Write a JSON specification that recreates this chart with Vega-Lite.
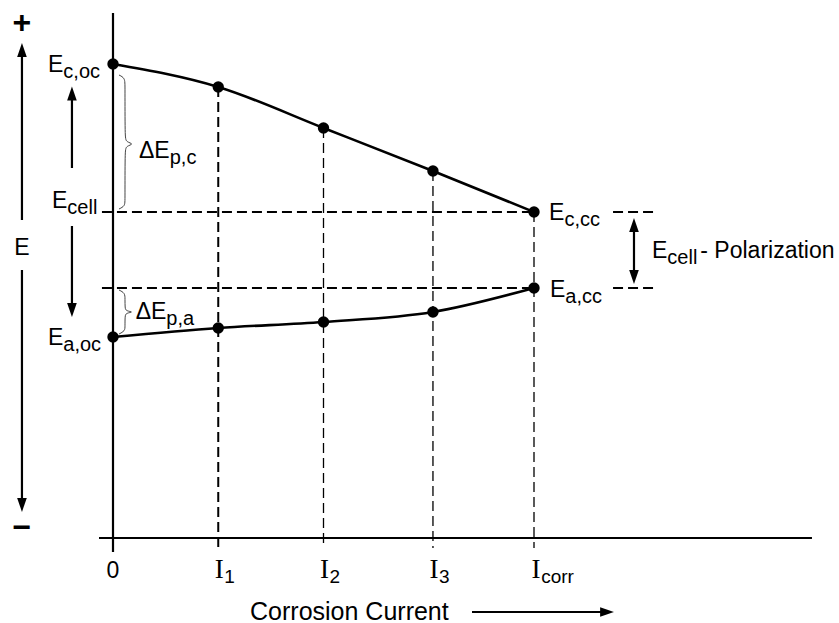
{
  "$schema": "https://vega.github.io/schema/vega-lite/v6.json",
  "width": 839,
  "height": 623,
  "autosize": {"type": "none"},
  "padding": 0,
  "background": "white",
  "config": {"view": {"stroke": null}},
  "datasets": {
    "curves": [
      {"series": "cathodic", "x": 0, "y": 4.74},
      {"series": "cathodic", "x": 1.0, "y": 4.51},
      {"series": "cathodic", "x": 2.0, "y": 4.10},
      {"series": "cathodic", "x": 3.04, "y": 3.67},
      {"series": "cathodic", "x": 4.0, "y": 3.26},
      {"series": "anodic", "x": 0, "y": 2.01},
      {"series": "anodic", "x": 1.0, "y": 2.10},
      {"series": "anodic", "x": 2.0, "y": 2.16},
      {"series": "anodic", "x": 3.04, "y": 2.26},
      {"series": "anodic", "x": 4.0, "y": 2.50}
    ],
    "solid": [
      {"name": "x-axis", "x": -0.133, "x2": 6.641, "y": 0, "y2": 0},
      {"name": "y-axis", "x": 0, "x2": 0, "y": -0.14, "y2": 5.25},
      {"name": "E up", "x": -0.865, "x2": -0.865, "y": 3.18, "y2": 4.84},
      {"name": "E down", "x": -0.865, "x2": -0.865, "y": 2.68, "y2": 0.37},
      {"name": "Ecell up", "x": -0.39, "x2": -0.39, "y": 3.70, "y2": 4.40},
      {"name": "Ecell down", "x": -0.39, "x2": -0.39, "y": 3.12, "y2": 2.33},
      {"name": "polarization", "x": 4.95, "x2": 4.95, "y": 3.08, "y2": 2.64},
      {"name": "current", "x": 3.411, "x2": 4.66, "y": -0.74, "y2": -0.74}
    ],
    "dashThick": [
      {"x": -0.105, "x2": 4.0, "y": 3.26, "y2": 3.26},
      {"x": -0.105, "x2": 4.0, "y": 2.50, "y2": 2.50},
      {"x": 4.751, "x2": 5.131, "y": 3.26, "y2": 3.26},
      {"x": 4.751, "x2": 5.131, "y": 2.50, "y2": 2.50},
      {"x": 1.0, "x2": 1.0, "y": 4.51, "y2": -0.10}
    ],
    "dashThin": [
      {"x": 2.0, "x2": 2.0, "y": 4.10, "y2": -0.10},
      {"x": 3.04, "x2": 3.04, "y": 3.67, "y2": -0.10},
      {"x": 4.0, "x2": 4.0, "y": 3.26, "y2": -0.10}
    ],
    "headsUp": [
      {"x": -0.865, "y": 4.88},
      {"x": -0.39, "y": 4.445},
      {"x": 4.95, "y": 3.13}
    ],
    "headsDown": [
      {"x": -0.865, "y": 0.33},
      {"x": -0.39, "y": 2.28},
      {"x": 4.95, "y": 2.61}
    ],
    "headsRight": [
      {"x": 4.694, "y": -0.74}
    ],
    "braces": [
      {"brace": "c", "k": 0, "x": 0.057, "y": 4.63},
      {"brace": "c", "k": 1, "x": 0.114, "y": 4.60},
      {"brace": "c", "k": 2, "x": 0.114, "y": 4.52},
      {"brace": "c", "k": 3, "x": 0.114, "y": 4.01},
      {"brace": "c", "k": 4, "x": 0.1235, "y": 3.96},
      {"brace": "c", "k": 5, "x": 0.205, "y": 3.94},
      {"brace": "c", "k": 6, "x": 0.1235, "y": 3.92},
      {"brace": "c", "k": 7, "x": 0.114, "y": 3.87},
      {"brace": "c", "k": 8, "x": 0.114, "y": 3.38},
      {"brace": "c", "k": 9, "x": 0.114, "y": 3.32},
      {"brace": "c", "k": 10, "x": 0.057, "y": 3.29},
      {"brace": "a", "k": 0, "x": 0.057, "y": 2.48},
      {"brace": "a", "k": 1, "x": 0.114, "y": 2.45},
      {"brace": "a", "k": 2, "x": 0.114, "y": 2.39},
      {"brace": "a", "k": 3, "x": 0.114, "y": 2.30},
      {"brace": "a", "k": 4, "x": 0.1235, "y": 2.27},
      {"brace": "a", "k": 5, "x": 0.2, "y": 2.26},
      {"brace": "a", "k": 6, "x": 0.1235, "y": 2.25},
      {"brace": "a", "k": 7, "x": 0.114, "y": 2.22},
      {"brace": "a", "k": 8, "x": 0.114, "y": 2.12},
      {"brace": "a", "k": 9, "x": 0.114, "y": 2.07},
      {"brace": "a", "k": 10, "x": 0.057, "y": 2.04}
    ],
    "baseText": [
      {"t": "E", "x": -0.618, "y": 4.66},
      {"t": "E", "x": -0.58, "y": 3.30},
      {"t": "E", "x": -0.618, "y": 1.93},
      {"t": "ΔE", "x": 0.247, "y": 3.80},
      {"t": "ΔE", "x": 0.215, "y": 2.19},
      {"t": "E", "x": 4.143, "y": 3.18},
      {"t": "E", "x": 4.152, "y": 2.41},
      {"t": "E", "x": 5.121, "y": 2.80},
      {"t": "- Polarization", "x": 5.58, "y": 2.80}
    ],
    "subText": [
      {"t": "c,oc", "x": -0.472, "y": 4.60},
      {"t": "cell", "x": -0.434, "y": 3.24},
      {"t": "a,oc", "x": -0.472, "y": 1.87},
      {"t": "p,c", "x": 0.539, "y": 3.74},
      {"t": "p,a", "x": 0.507, "y": 2.13},
      {"t": "c,cc", "x": 4.289, "y": 3.12},
      {"t": "a,cc", "x": 4.298, "y": 2.35},
      {"t": "cell", "x": 5.267, "y": 2.74}
    ],
    "axisLabel": [
      {"t": "E", "x": -0.865, "y": 2.83}
    ],
    "zero": [
      {"t": "0", "x": 0, "y": -0.40}
    ],
    "signs": [
      {"t": "+", "x": -0.865, "y": 5.05},
      {"t": "−", "x": -0.865, "y": 0.0}
    ],
    "tickI": [
      {"t": "I", "x": 1.01, "y": -0.40},
      {"t": "I", "x": 2.01, "y": -0.40},
      {"t": "I", "x": 3.05, "y": -0.40},
      {"t": "I", "x": 4.02, "y": -0.40}
    ],
    "tickSub": [
      {"t": "1", "x": 1.058, "y": -0.445},
      {"t": "2", "x": 2.058, "y": -0.445},
      {"t": "3", "x": 3.098, "y": -0.445},
      {"t": "corr", "x": 4.068, "y": -0.445}
    ],
    "title": [
      {"t": "Corrosion Current", "x": 1.302, "y": -0.815}
    ]
  },
  "encoding": {
    "x": {"field": "x", "type": "quantitative", "scale": {"domain": [-1.07363, 6.89786], "nice": false, "zero": false}, "axis": null},
    "y": {"field": "y", "type": "quantitative", "scale": {"domain": [-0.85, 5.38], "nice": false, "zero": false}, "axis": null}
  },
  "layer": [
    {
      "data": {"name": "dashThick"},
      "mark": {"type": "rule", "color": "black", "strokeWidth": 2, "strokeDash": [10, 5]},
      "encoding": {"x2": {"field": "x2"}, "y2": {"field": "y2"}}
    },
    {
      "data": {"name": "dashThin"},
      "mark": {"type": "rule", "color": "black", "strokeWidth": 1.3, "strokeDash": [10, 5]},
      "encoding": {"x2": {"field": "x2"}, "y2": {"field": "y2"}}
    },
    {
      "data": {"name": "solid"},
      "mark": {"type": "rule", "color": "black", "strokeWidth": 2.2},
      "encoding": {"x2": {"field": "x2"}, "y2": {"field": "y2"}}
    },
    {
      "data": {"name": "braces"},
      "mark": {"type": "line", "color": "#444444", "strokeWidth": 1, "interpolate": "basis"},
      "encoding": {"detail": {"field": "brace"}, "order": {"field": "k", "type": "quantitative"}}
    },
    {
      "data": {"name": "curves"},
      "mark": {"type": "line", "color": "black", "strokeWidth": 2.6, "interpolate": "monotone"},
      "encoding": {"detail": {"field": "series"}}
    },
    {
      "data": {"name": "curves"},
      "mark": {"type": "point", "filled": true, "color": "black", "opacity": 1, "size": 130, "shape": "circle"},
      "encoding": {}
    },
    {
      "data": {"name": "headsUp"},
      "mark": {"type": "point", "filled": true, "color": "black", "opacity": 1, "size": 190, "shape": "M-0.7,1L0,-1L0.7,1Z"},
      "encoding": {}
    },
    {
      "data": {"name": "headsDown"},
      "mark": {"type": "point", "filled": true, "color": "black", "opacity": 1, "size": 190, "shape": "M-0.7,-1L0,1L0.7,-1Z"},
      "encoding": {}
    },
    {
      "data": {"name": "headsRight"},
      "mark": {"type": "point", "filled": true, "color": "black", "opacity": 1, "size": 190, "shape": "M-1,-0.7L1,0L-1,0.7Z"},
      "encoding": {}
    },
    {
      "data": {"name": "baseText"},
      "mark": {"type": "text", "font": "Liberation Sans", "fontSize": 23, "align": "left", "baseline": "alphabetic", "color": "black"},
      "encoding": {"text": {"field": "t"}}
    },
    {
      "data": {"name": "subText"},
      "mark": {"type": "text", "font": "Liberation Sans", "fontSize": 20, "align": "left", "baseline": "alphabetic", "color": "black"},
      "encoding": {"text": {"field": "t"}}
    },
    {
      "data": {"name": "axisLabel"},
      "mark": {"type": "text", "font": "Liberation Sans", "fontSize": 23, "align": "center", "baseline": "alphabetic", "color": "black"},
      "encoding": {"text": {"field": "t"}}
    },
    {
      "data": {"name": "zero"},
      "mark": {"type": "text", "font": "Liberation Sans", "fontSize": 23, "align": "center", "baseline": "alphabetic", "color": "black"},
      "encoding": {"text": {"field": "t"}}
    },
    {
      "data": {"name": "signs"},
      "mark": {"type": "text", "font": "Liberation Sans", "fontSize": 32, "fontWeight": "bold", "align": "center", "baseline": "alphabetic", "color": "black"},
      "encoding": {"text": {"field": "t"}}
    },
    {
      "data": {"name": "tickI"},
      "mark": {"type": "text", "font": "Liberation Serif", "fontSize": 27, "align": "center", "baseline": "alphabetic", "color": "black"},
      "encoding": {"text": {"field": "t"}}
    },
    {
      "data": {"name": "tickSub"},
      "mark": {"type": "text", "font": "Liberation Sans", "fontSize": 19, "align": "left", "baseline": "alphabetic", "color": "black"},
      "encoding": {"text": {"field": "t"}}
    },
    {
      "data": {"name": "title"},
      "mark": {"type": "text", "font": "Liberation Sans", "fontSize": 25, "align": "left", "baseline": "alphabetic", "color": "black"},
      "encoding": {"text": {"field": "t"}}
    }
  ]
}
